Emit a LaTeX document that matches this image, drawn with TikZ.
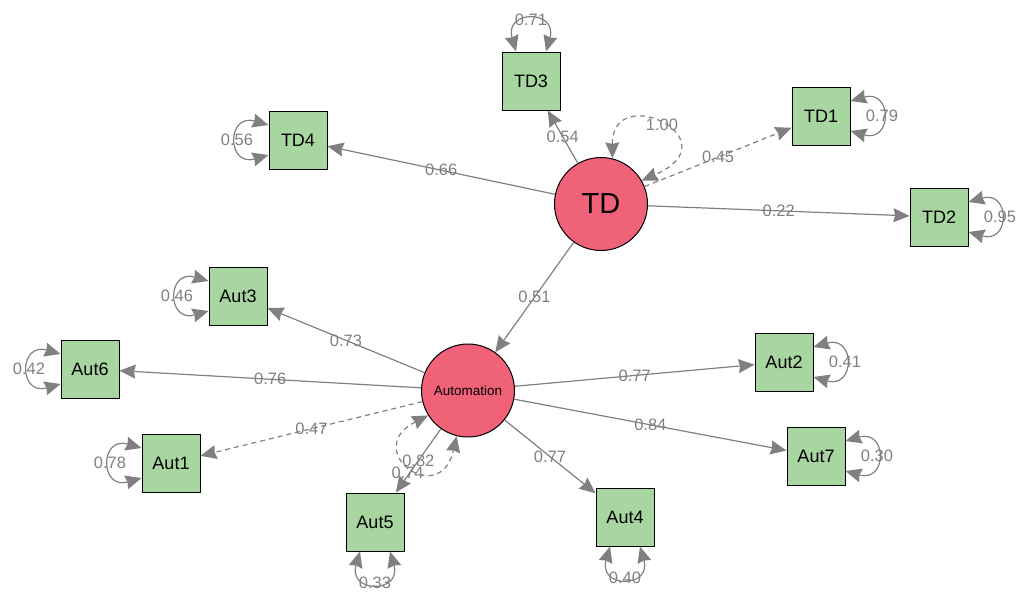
\documentclass[tikz,border=0pt]{standalone}
\usepackage{fontspec}
\setmainfont{Liberation Sans}
\usetikzlibrary{arrows.meta}
\definecolor{boxgreen}{RGB}{168,214,160}
\definecolor{latred}{RGB}{239,98,119}
\definecolor{edgegray}{RGB}{128,128,128}
\begin{document}
\begin{tikzpicture}[x=1pt,y=-1pt,
  obs/.style={draw=black, line width=1pt, fill=boxgreen, minimum size=58pt, inner sep=0pt, font=\fontsize{18}{21}\selectfont},
  lat/.style={circle, draw=black, line width=1pt, fill=latred, minimum size=93pt, inner sep=0pt},
  lpath/.style={draw=edgegray, line width=1.2pt, -{Stealth[length=16pt,width=14pt,inset=1.5pt]}},
  res/.style={draw=edgegray, line width=1.2pt, {Stealth[length=16pt,width=14pt,inset=1.5pt]}-{Stealth[length=16pt,width=14pt,inset=1.5pt]}},
  lab/.style={text=edgegray, font=\fontsize{16.5}{19}\selectfont, inner sep=1pt},
  dsh/.style={dash pattern=on 5pt off 4pt}
]
\useasboundingbox (0,0) rectangle (1019,592);

% latent variables
\node[lat, font=\fontsize{29}{33}\selectfont] (TD) at (601,204) {TD};
\node[lat, font=\fontsize{13.5}{15}\selectfont] (Aut) at (468,390.5) {Automation};

% indicators
\node[obs] (TD3) at (531,81) {TD3};
\node[obs] (TD4) at (298,140) {TD4};
\node[obs] (TD1) at (821,116) {TD1};
\node[obs] (TD2) at (939,217) {TD2};
\node[obs] (Aut3) at (238,296) {Aut3};
\node[obs] (Aut6) at (90,369) {Aut6};
\node[obs] (Aut1) at (171,463) {Aut1};
\node[obs] (Aut5) at (375,522) {Aut5};
\node[obs] (Aut4) at (625,517) {Aut4};
\node[obs] (Aut7) at (816,456) {Aut7};
\node[obs] (Aut2) at (784,362) {Aut2};

% loadings
\draw[lpath] (TD) -- node[lab]{0.54} (TD3);
\draw[lpath] (TD) -- node[lab]{0.66} (TD4);
\draw[lpath,dsh] (TD) -- node[lab]{0.45} (TD1);
\draw[lpath] (TD) -- node[lab]{0.22} (TD2);
\draw[lpath] (TD) -- node[lab]{0.51} (Aut);
\draw[lpath] (Aut) -- node[lab]{0.73} (Aut3);
\draw[lpath] (Aut) -- node[lab]{0.76} (Aut6);
\draw[lpath,dsh] (Aut) -- node[lab]{0.47} (Aut1);
\draw[lpath] (Aut) -- node[lab]{0.82} (Aut5);
\draw[lpath] (Aut) -- node[lab]{0.77} (Aut4);
\draw[lpath] (Aut) -- node[lab]{0.84} (Aut7);
\draw[lpath] (Aut) -- node[lab]{0.77} (Aut2);

% residual variances of latents
\draw[res,dsh] (TD.76) .. controls (612,80) and (735,140) .. (TD.30) node[lab,midway]{1.00};
\draw[res,dsh] (Aut.212) .. controls (360,450) and (440,510) .. (Aut.256) node[lab,midway,xshift=-3pt,yshift=-6pt]{0.74};

% residual variances of indicators
\draw[res] ([xshift=-15pt]TD3.north) .. controls +(-12,-42) and +(12,-42) .. ([xshift=15pt]TD3.north) node[lab,midway]{0.71};
\draw[res] ([yshift=15pt]TD4.west) .. controls +(-42,-12) and +(-42,12) .. ([yshift=-15pt]TD4.west) node[lab,midway]{0.56};
\draw[res] ([yshift=15pt]TD1.east) .. controls +(42,-12) and +(42,12) .. ([yshift=-15pt]TD1.east) node[lab,midway]{0.79};
\draw[res] ([yshift=15pt]TD2.east) .. controls +(42,-12) and +(42,12) .. ([yshift=-15pt]TD2.east) node[lab,midway]{0.95};
\draw[res] ([yshift=15pt]Aut3.west) .. controls +(-42,-12) and +(-42,12) .. ([yshift=-15pt]Aut3.west) node[lab,midway]{0.46};
\draw[res] ([yshift=15pt]Aut6.west) .. controls +(-42,-12) and +(-42,12) .. ([yshift=-15pt]Aut6.west) node[lab,midway]{0.42};
\draw[res] ([yshift=15pt]Aut1.west) .. controls +(-42,-12) and +(-42,12) .. ([yshift=-15pt]Aut1.west) node[lab,midway]{0.78};
\draw[res] ([xshift=-15pt]Aut5.south) .. controls +(-12,42) and +(12,42) .. ([xshift=15pt]Aut5.south) node[lab,midway]{0.33};
\draw[res] ([xshift=-15pt]Aut4.south) .. controls +(-12,42) and +(12,42) .. ([xshift=15pt]Aut4.south) node[lab,midway]{0.40};
\draw[res] ([yshift=15pt]Aut7.east) .. controls +(42,-12) and +(42,12) .. ([yshift=-15pt]Aut7.east) node[lab,midway]{0.30};
\draw[res] ([yshift=15pt]Aut2.east) .. controls +(42,-12) and +(42,12) .. ([yshift=-15pt]Aut2.east) node[lab,midway]{0.41};
\end{tikzpicture}
\end{document}
